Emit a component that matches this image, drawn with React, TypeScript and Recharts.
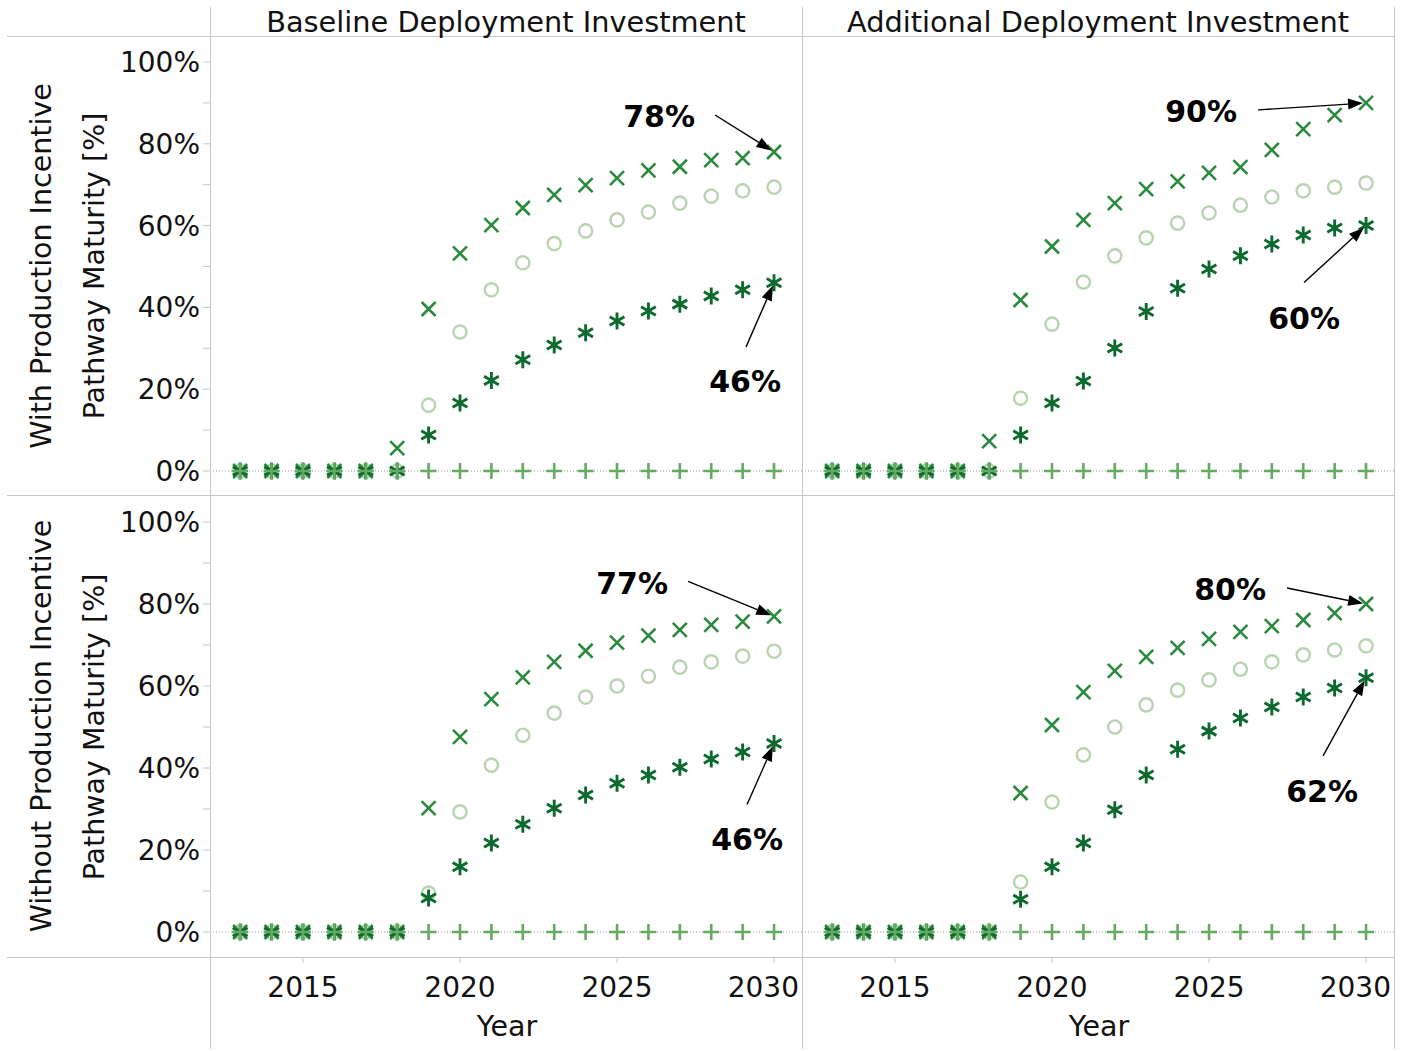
import React from "react";
import { ScatterChart, Scatter, XAxis, YAxis, ReferenceLine } from "recharts";

const FONT = '"DejaVu Sans", Verdana, sans-serif';
const BORDER = "#c6c6c6";

// Marker colours for the four pathways
const CROSS_COLOR = "#2a8a3e";
const RING_COLOR = "#b8d4b0";
const STAR_COLOR = "#0d6a2e";
const PLUS_COLOR = "#64aa60";

const years = [2013, 2014, 2015, 2016, 2017, 2018, 2019, 2020, 2021, 2022, 2023, 2024, 2025, 2026, 2027, 2028, 2029, 2030];

const columnTitles = ["Baseline Deployment Investment", "Additional Deployment Investment"];
const rowTitles = ["With Production Incentive", "Without Production Incentive"];
const axisTitle = "Pathway Maturity [%]";
const xTitle = "Year";
const xTicks = [2015, 2020, 2025, 2030];
const yTicks = [0, 10, 20, 30, 40, 50, 60, 70, 80, 90, 100];

// With production incentive, baseline deployment
const withBaseCross = [0, 0, 0, 0, 0, 5.6, 39.6, 53.2, 60.1, 64.3, 67.5, 69.9, 71.6, 73.5, 74.4, 76, 76.5, 78];
const withBaseRing = [0, 0, 0, 0, 0, 0, 16.1, 34, 44.3, 50.9, 55.6, 58.7, 61.4, 63.3, 65.5, 67.2, 68.5, 69.4];
const withBaseStar = [0, 0, 0, 0, 0, 0, 8.8, 16.6, 22.1, 27.2, 30.8, 33.8, 36.7, 39.1, 40.8, 42.8, 44.3, 46];

// With production incentive, additional deployment
const withAddCross = [0, 0, 0, 0, 0, 7.3, 41.8, 54.9, 61.4, 65.5, 68.9, 70.8, 72.9, 74.3, 78.5, 83.6, 87, 90];
const withAddRing = [0, 0, 0, 0, 0, 0, 17.8, 35.9, 46.2, 52.6, 57, 60.6, 63.1, 65, 67, 68.5, 69.4, 70.4];
const withAddStar = [0, 0, 0, 0, 0, 0, 8.8, 16.6, 22, 30.1, 39, 44.7, 49.4, 52.6, 55.5, 57.7, 59.4, 60];

// Without production incentive, baseline deployment
const noBaseCross = [0, 0, 0, 0, 0, 0, 30.2, 47.6, 56.8, 62.1, 65.9, 68.6, 70.6, 72.3, 73.7, 74.9, 75.7, 77];
const noBaseRing = [0, 0, 0, 0, 0, 0, 9.5, 29.3, 40.7, 48, 53.4, 57.3, 60, 62.4, 64.6, 65.9, 67.3, 68.5];
const noBaseStar = [0, 0, 0, 0, 0, 0, 8.3, 15.9, 21.7, 26.3, 30.2, 33.4, 36.3, 38.3, 40.2, 42.2, 43.9, 46];

// Without production incentive, additional deployment
const noAddCross = [0, 0, 0, 0, 0, 0, 33.9, 50.5, 58.5, 63.7, 67.1, 69.3, 71.5, 73.2, 74.6, 76.1, 77.8, 80];
const noAddRing = [0, 0, 0, 0, 0, 0, 12.2, 31.7, 43.2, 50, 55.4, 59, 61.5, 64.1, 65.9, 67.6, 68.8, 69.8];
const noAddStar = [0, 0, 0, 0, 0, 0, 8, 15.9, 21.7, 29.8, 38.3, 44.6, 49, 52.2, 54.9, 57.3, 59.5, 62];

// The fourth pathway never leaves zero
const plusValues = [0, 0, 0, 0, 0, 0, 0, 0, 0, 0, 0, 0, 0, 0, 0, 0, 0, 0];

const X_DOMAIN: [number, number] = [2012.04, 2030.89];

type Pt = { year: number; value: number };
const toPoints = (vals: number[]): Pt[] => years.map((year, i) => ({ year, value: vals[i] }));

type Callout = { which: "cross" | "star"; dx: number; dy: number; tx: number; ty: number };

interface PanelDef {
  left: number;
  top: number;
  width: number;
  height: number;
  yDomain: [number, number];
  showY: boolean;
  showX: boolean;
  cross: number[];
  ring: number[];
  star: number[];
  callouts: Callout[];
}

const panels: PanelDef[] = [
  {
    left: 110, top: 36, width: 692, height: 459, yDomain: [-5.87, 106.36], showY: true, showX: false,
    cross: withBaseCross, ring: withBaseRing, star: withBaseStar,
    callouts: [
      { which: "cross", dx: -59, dy: -37, tx: -115, ty: -35 },
      { which: "star", dx: -28, dy: 64, tx: -29, ty: 99 },
    ],
  },
  {
    left: 802, top: 36, width: 592, height: 459, yDomain: [-5.87, 106.36], showY: false, showX: false,
    cross: withAddCross, ring: withAddRing, star: withAddStar,
    callouts: [
      { which: "cross", dx: -108, dy: 7, tx: -165, ty: 9 },
      { which: "star", dx: -62, dy: 57, tx: -62, ty: 93 },
    ],
  },
  {
    left: 110, top: 495, width: 692, height: 556, yDomain: [-6.1, 106.6], showY: true, showX: true,
    cross: noBaseCross, ring: noBaseRing, star: noBaseStar,
    callouts: [
      { which: "cross", dx: -86, dy: -35, tx: -142, ty: -33 },
      { which: "star", dx: -27, dy: 61, tx: -27, ty: 96 },
    ],
  },
  {
    left: 802, top: 495, width: 592, height: 556, yDomain: [-6.1, 106.6], showY: false, showX: true,
    cross: noAddCross, ring: noAddRing, star: noAddStar,
    callouts: [
      { which: "cross", dx: -79, dy: -16, tx: -136, ty: -15 },
      { which: "star", dx: -43, dy: 78, tx: -44, ty: 114 },
    ],
  },
];

// ---- marker shapes ----
const CrossMark = ({ cx, cy }: any) => (
  <path
    d={`M${cx - 7},${cy - 7}L${cx + 7},${cy + 7}M${cx - 7},${cy + 7}L${cx + 7},${cy - 7}`}
    stroke={CROSS_COLOR}
    strokeWidth={2.6}
    fill="none"
  />
);

const RingMark = ({ cx, cy }: any) => (
  <circle cx={cx} cy={cy} r={6.6} stroke={RING_COLOR} strokeWidth={2.4} fill="none" />
);

const StarMark = ({ cx, cy }: any) => {
  const r = 8.5;
  const ax = r * Math.cos(Math.PI / 6);
  const ay = r * Math.sin(Math.PI / 6);
  return (
    <path
      d={`M${cx},${cy - r}L${cx},${cy + r}M${cx - ax},${cy - ay}L${cx + ax},${cy + ay}M${cx - ax},${cy + ay}L${cx + ax},${cy - ay}`}
      stroke={STAR_COLOR}
      strokeWidth={2.9}
      fill="none"
    />
  );
};

const PlusMark = ({ cx, cy }: any) => (
  <path
    d={`M${cx - 8},${cy}L${cx + 8},${cy}M${cx},${cy - 8}L${cx},${cy + 8}`}
    stroke={PLUS_COLOR}
    strokeWidth={2.6}
    fill="none"
  />
);

// Arrow + bold label pointing at the 2030 value
const makeCallout = (c: Callout, value: number) => ({ cx, cy }: any) => {
  const x0 = cx + c.dx;
  const y0 = cy + c.dy;
  const len = Math.hypot(cx - x0, cy - y0);
  const ux = (cx - x0) / len;
  const uy = (cy - y0) / len;
  const tipX = cx - ux * 3;
  const tipY = cy - uy * 3;
  const bx = tipX - ux * 15;
  const by = tipY - uy * 15;
  const nx = -uy * 5.5;
  const ny = ux * 5.5;
  return (
    <g>
      <line x1={x0} y1={y0} x2={bx} y2={by} stroke="#000" strokeWidth={1.4} />
      <polygon points={`${tipX},${tipY} ${bx + nx},${by + ny} ${bx - nx},${by - ny}`} fill="#000" />
      <text
        x={cx + c.tx}
        y={cy + c.ty}
        textAnchor="middle"
        dominantBaseline="central"
        fontFamily={FONT}
        fontWeight="bold"
        fontSize={30}
        fill="#000"
      >
        {`${Math.round(value)}%`}
      </text>
    </g>
  );
};

const yTickFormat = (v: number) => (v % 20 === 0 ? `${v}%` : "");

// Year labels; the last one is pulled inside the panel edge
const makeYearTick = (chartWidth: number) => ({ x, y, payload }: any) => {
  const half = 36;
  const overflow = x + half > chartWidth - 2;
  return (
    <text
      x={overflow ? chartWidth - 3 : x}
      y={y}
      dy="0.71em"
      textAnchor={overflow ? "end" : "middle"}
      fontFamily={FONT}
      fontSize={28}
      fill="#111"
    >
      {payload.value}
    </text>
  );
};

function Panel({ p }: { p: PanelDef }) {
  const last = years.length - 1;
  return (
    <div style={{ position: "absolute", left: p.left, top: p.top }}>
      <ScatterChart width={p.width} height={p.height} margin={{ top: 0, right: 0, bottom: 0, left: 0 }}>
        <XAxis
          type="number"
          dataKey="year"
          domain={X_DOMAIN}
          allowDataOverflow
          ticks={xTicks}
          interval={0}
          hide={!p.showX}
          height={94}
          axisLine={false}
          tickLine={{ stroke: BORDER }}
          tickSize={6}
          tickMargin={14}
          tick={makeYearTick(p.width)}
        />
        <YAxis
          type="number"
          dataKey="value"
          domain={p.yDomain}
          allowDataOverflow
          ticks={yTicks}
          interval={0}
          hide={!p.showY}
          width={100}
          axisLine={false}
          tickLine={{ stroke: BORDER }}
          tickSize={7}
          tickMargin={3}
          tickFormatter={yTickFormat}
          tick={{ fontSize: 28, fill: "#111", fontFamily: FONT }}
        />
        <ReferenceLine y={0} stroke="#9a9a9a" strokeDasharray="1 2" />
        <Scatter data={toPoints(p.ring)} shape={RingMark} isAnimationActive={false} />
        <Scatter data={toPoints(p.cross)} shape={CrossMark} isAnimationActive={false} />
        <Scatter data={toPoints(p.star)} shape={StarMark} isAnimationActive={false} />
        <Scatter data={toPoints(plusValues)} shape={PlusMark} isAnimationActive={false} />
        {p.callouts.map((c, i) => {
          const value = (c.which === "cross" ? p.cross : p.star)[last];
          return (
            <Scatter
              key={i}
              data={[{ year: years[last], value }]}
              shape={makeCallout(c, value)}
              isAnimationActive={false}
            />
          );
        })}
      </ScatterChart>
    </div>
  );
}

const hLine = (top: number, left: number, right: number) => (
  <div style={{ position: "absolute", top, left, width: right - left, height: 1, background: BORDER }} />
);
const vLine = (left: number, top: number, bottom: number) => (
  <div style={{ position: "absolute", left, top, width: 1, height: bottom - top, background: BORDER }} />
);

const textStyle: React.CSSProperties = {
  position: "absolute",
  fontFamily: FONT,
  fontSize: 28.5,
  color: "#111",
  whiteSpace: "nowrap",
  lineHeight: 1,
};

const rotated = (label: string, cx: number, cy: number) => (
  <div
    style={{
      ...textStyle,
      left: cx,
      top: cy,
      transform: "translate(-50%, -50%) rotate(-90deg)",
    }}
  >
    {label}
  </div>
);

const centered = (label: string, cx: number, cy: number, size?: number) => (
  <div style={{ ...textStyle, fontSize: size ?? textStyle.fontSize, left: cx, top: cy, transform: "translate(-50%, -50%)" }}>
    {label}
  </div>
);

export default function App() {
  return (
    <div style={{ position: "absolute", left: 0, top: 0, width: 1405, height: 1051, background: "#fff", overflow: "hidden" }}>
      {panels.map((p, i) => (
        <Panel key={i} p={p} />
      ))}

      {hLine(36, 7, 1394)}
      {hLine(495, 7, 1394)}
      {hLine(957, 7, 1394)}
      {vLine(210, 7, 1049)}
      {vLine(802, 7, 1049)}
      {vLine(1394, 7, 1049)}

      {centered(columnTitles[0], 506, 22, 28.8)}
      {centered(columnTitles[1], 1098, 22, 28.8)}
      {rotated(rowTitles[0], 42, 266)}
      {rotated(axisTitle, 95, 266)}
      {rotated(rowTitles[1], 42, 726)}
      {rotated(axisTitle, 95, 727)}
      {centered(xTitle, 507, 1027)}
      {centered(xTitle, 1099, 1027)}
    </div>
  );
}
